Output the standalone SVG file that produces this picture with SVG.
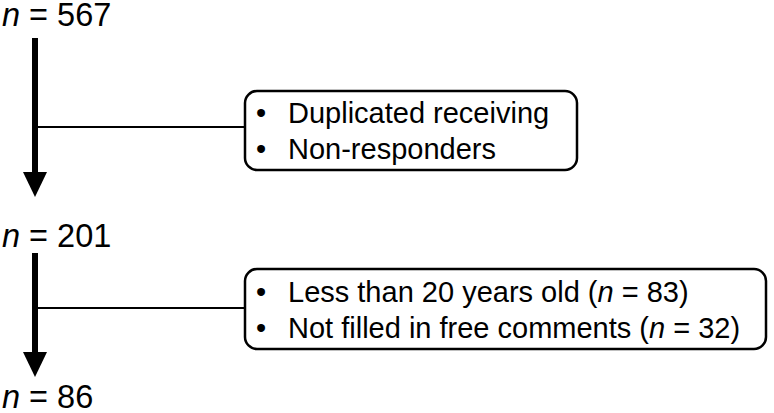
<svg xmlns="http://www.w3.org/2000/svg" width="774" height="413" viewBox="0 0 774 413">
<style>
.n{font-family:"Liberation Sans",Arial,sans-serif;font-size:32.5px;fill:#000}
.t{font-family:"Liberation Sans",Arial,sans-serif;font-size:29px;fill:#000}
.box{fill:#fff;stroke:#000;stroke-width:2.5}
.shaft{stroke:#000;stroke-width:6;fill:none}
.br{stroke:#000;stroke-width:2;fill:none}
</style>
<rect width="774" height="413" fill="#fff"/>
<g id="connectors">
<line class="shaft" x1="35" y1="38" x2="35" y2="174"/>
<polygon points="23,172 47,172 35,197"/>
<line class="br" x1="35" y1="127" x2="246" y2="127"/>
<line class="shaft" x1="35" y1="253" x2="35" y2="354"/>
<polygon points="23,352 47,352 35,377"/>
<line class="br" x1="35" y1="308" x2="246" y2="308"/>
</g>
<g id="n567"><text class="n" x="2" y="26"><tspan font-style="italic">n</tspan> = 567</text></g>
<g id="n201"><text class="n" x="2" y="247"><tspan font-style="italic">n</tspan> = 201</text></g>
<g id="n86"><text class="n" x="2" y="408"><tspan font-style="italic">n</tspan> = 86</text></g>
<g id="excl1">
<rect class="box" x="245" y="91" width="332" height="79" rx="12"/>
<text class="t" x="256" y="123">•</text><text class="t" x="288" y="123">Duplicated receiving</text>
<text class="t" x="256" y="159">•</text><text class="t" x="288" y="159">Non-responders</text>
</g>
<g id="excl2">
<rect class="box" x="245" y="269" width="521" height="80" rx="12"/>
<text class="t" x="256" y="302">•</text><text class="t" x="288" y="302">Less than 20 years old (<tspan font-style="italic">n</tspan> = 83)</text>
<text class="t" x="256" y="338">•</text><text class="t" x="288" y="338">Not filled in free comments (<tspan font-style="italic">n</tspan> = 32)</text>
</g>
</svg>
